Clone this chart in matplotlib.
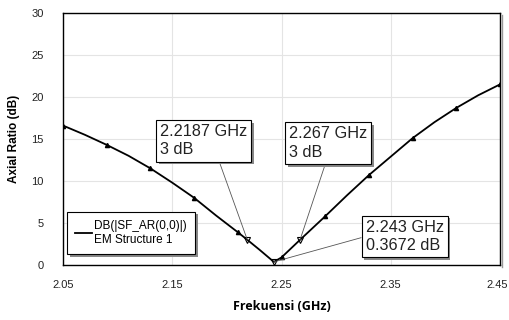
import matplotlib
matplotlib.use("Agg")
import matplotlib.pyplot as plt
import matplotlib.patheffects as pe
import matplotlib.transforms as mtransforms

# axial ratio sweep (GHz, dB)
freq = [2.05, 2.07, 2.09, 2.11, 2.13, 2.15, 2.17, 2.19, 2.21, 2.2187, 2.23, 2.243,
        2.25, 2.267, 2.29, 2.31, 2.33, 2.35, 2.37, 2.39, 2.41, 2.43, 2.45]
ar_db = [16.6, 15.5, 14.3, 13.0, 11.5, 9.8, 8.0, 5.9, 3.9, 3.0, 1.8, 0.3672,
         0.9, 3.0, 5.8, 8.3, 10.7, 12.9, 15.1, 17.0, 18.7, 20.2, 21.5]
mark_idx = [0, 2, 4, 6, 8, 12, 14, 16, 18, 20, 22]

# markers: (freq, value, text position, relpos of leader line)
m_freq = [2.2187, 2.267, 2.243]
m_val = [3.0, 3.0, 0.3672]
m_text = [(2.139, 14.8), (2.257, 14.5), (2.327, 3.4)]
m_rel = [(0.66, 0.0), (0.48, 0.0), (0.0, 0.5)]

xticks = [2.05, 2.15, 2.25, 2.35, 2.45]
yticks = [0, 5, 10, 15, 20, 25, 30]

plt.rcParams['font.family'] = ['Liberation Sans', 'DejaVu Sans']

fig = plt.figure(figsize=(5.09, 3.2), dpi=100)
ax = fig.add_axes([0.1238, 0.1719, 0.8585, 0.7875])

ax.plot(freq, ar_db, color='black', lw=1.3, marker='^', ms=3,
        markevery=mark_idx, label='DB(|SF_AR(0,0)|)\nEM Structure 1')

ax.set_xlim(2.05, 2.45)
ax.set_ylim(0, 30)
ax.set_xticks(xticks)
ax.set_yticks(yticks)
ax.set_xticklabels([f"{t:.2f}" for t in xticks])
ax.tick_params(length=0, labelsize=8, colors='#222222')
ax.tick_params(axis='x', pad=11)
ax.tick_params(axis='y', pad=14)
# keep the last x label inside the canvas
last = ax.get_xticklabels()[-1]
last.set_transform(last.get_transform() + mtransforms.ScaledTranslation(-3 / 100, 0, fig.dpi_scale_trans))
ax.grid(color='#e4e4e4', lw=0.8)
ax.set_axisbelow(True)
for s in ax.spines.values():
    s.set_linewidth(1.0)
ax.spines['right'].set_path_effects([pe.SimpleLineShadow(offset=(1.5, -1.5), shadow_color='gray', alpha=0.8), pe.Normal()])

ax.set_ylabel('Axial Ratio (dB)', fontsize=8.5, fontweight='bold', labelpad=8)
ax.set_xlabel('Frekuensi (GHz)', family=['Open Sans', 'DejaVu Sans'],
              fontsize=9, fontweight='bold', labelpad=7)

shadow = [pe.SimplePatchShadow(offset=(2, -2), shadow_rgbFace='#888888', alpha=1), pe.Normal()]

for f, v, (tx, ty), rel in zip(m_freq, m_val, m_text, m_rel):
    ax.plot([f], [v], marker='v', ms=5, mfc='none', mec='black', mew=0.8, zorder=4)
    if v < 1:
        label = f"{f:g} GHz\n{v:.4f} dB"
    else:
        label = f"{f:g} GHz\n{v:g} dB"
    t = ax.annotate(label, xy=(f, v), xytext=(tx, ty), ha='left', va='center',
                    fontsize=11.7, linespacing=1.3, zorder=5, color='#222222',
                    bbox=dict(boxstyle='square,pad=0.25', fc='white', ec='black', lw=0.8),
                    arrowprops=dict(arrowstyle='-', color='#555555', lw=0.6,
                                    relpos=rel, shrinkA=0, shrinkB=0))
    t.get_bbox_patch().set_path_effects(shadow)

leg = ax.legend(loc='lower left', bbox_to_anchor=(-0.004, 0.02), fontsize=8.5,
                handlelength=1.4, handletextpad=0.2, borderpad=0.7,
                fancybox=False, framealpha=1, edgecolor='black')
leg.get_frame().set_linewidth(0.8)
leg.get_frame().set_path_effects(shadow)
for ln in leg.get_lines():
    ln.set_marker('')

fig.savefig('out.png', dpi=100)
